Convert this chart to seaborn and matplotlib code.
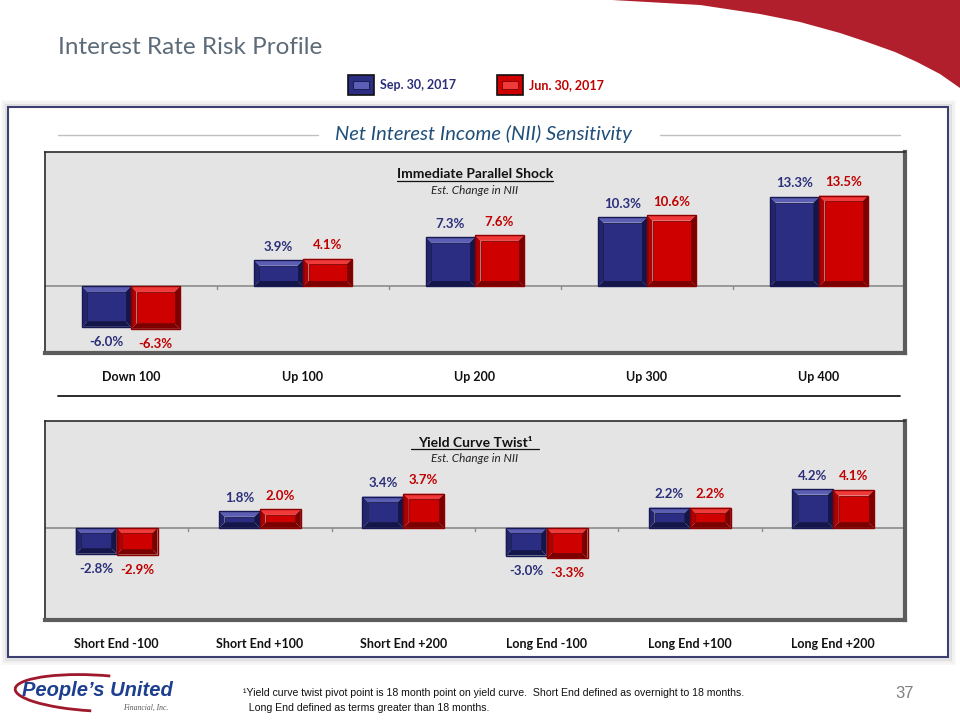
import numpy as np
import pandas as pd
import matplotlib.pyplot as plt
import seaborn as sns
from matplotlib.patches import Rectangle, Polygon, Arc

periodos = ['Sep. 30, 2017', 'Jun. 30, 2017']

choque_cenarios = ['Down 100', 'Up 100', 'Up 200', 'Up 300', 'Up 400']
choque_sep = [-6.0, 3.9, 7.3, 10.3, 13.3]
choque_jun = [-6.3, 4.1, 7.6, 10.6, 13.5]

twist_cenarios = ['Short End -100', 'Short End +100', 'Short End +200',
                  'Long End -100', 'Long End +100', 'Long End +200']
twist_sep = [-2.8, 1.8, 3.4, -3.0, 2.2, 4.2]
twist_jun = [-2.9, 2.0, 3.7, -3.3, 2.2, 4.1]

# cores
AZUL = dict(base='#2a2d82', claro='#5b5eb2', escuro='#14164a', lado='#22256c', borda='#171954', texto='#2b2f7a')
VERMELHO = dict(base='#cf0000', claro='#f03a3a', escuro='#7d0000', lado='#b00000', borda='#8e0000', texto='#c00000')

sns.set_theme(style='white')
plt.rcParams['font.family'] = ['Lato', 'DejaVu Sans']

fig = plt.figure(figsize=(9.6, 7.2), dpi=100)


def fx(px):
    return px / 960


def fy(py):
    return 1 - py / 720


def monta_df(cenarios, sep, jun):
    return pd.DataFrame({
        'cenario': cenarios * 2,
        'valor': sep + jun,
        'periodo': [periodos[0]] * len(cenarios) + [periodos[1]] * len(cenarios),
    })


def bisel(ax, x0, y0, w, h, cor, px_x, px_y, ins=5.5):
    # px_x / px_y: unidades de dados por pixel
    if h < 0:
        y0, h = y0 + h, -h
    wpx, hpx = w / px_x, h / px_y
    dx = min(ins, wpx / 4) * px_x
    dy = min(ins, hpx / 3) * px_y
    x1, y1 = x0 + w, y0 + h
    tr = ax.transData
    pts = {
        'topo': [(x0, y1), (x1, y1), (x1 - dx, y1 - dy), (x0 + dx, y1 - dy)],
        'base': [(x0, y0), (x1, y0), (x1 - dx, y0 + dy), (x0 + dx, y0 + dy)],
        'esq': [(x0, y0), (x0, y1), (x0 + dx, y1 - dy), (x0 + dx, y0 + dy)],
        'dir': [(x1, y0), (x1, y1), (x1 - dx, y1 - dy), (x1 - dx, y0 + dy)],
    }
    cores = {'topo': cor['claro'], 'base': cor['escuro'], 'esq': cor['lado'], 'dir': cor['escuro']}
    for k, p in pts.items():
        ax.add_patch(Polygon(p, closed=True, facecolor=cores[k], edgecolor='none', transform=tr, zorder=3))
    ax.add_patch(Rectangle((x0 + dx, y0 + dy), w - 2 * dx, h - 2 * dy, facecolor=cor['base'],
                           edgecolor=cor['escuro'], linewidth=0.6, transform=tr, zorder=4))
    ax.add_patch(Rectangle((x0, y0), w, h, facecolor='none', edgecolor=cor['borda'],
                           linewidth=1.0, transform=tr, zorder=5))


def painel(ax, df, cenarios, ylim, titulo):
    sns.barplot(data=df, x='cenario', y='valor', hue='periodo', order=cenarios,
                hue_order=periodos, palette=[AZUL['base'], VERMELHO['base']],
                width=0.57, gap=0, errorbar=None, legend=False, ax=ax)
    n = len(cenarios)
    ax.set_xlim(-0.5, n - 0.5)
    ax.set_ylim(*ylim)
    ax.set_facecolor('#e4e4e4')
    pos = ax.get_position()
    px_x = n / (pos.width * 960)
    px_y = (ylim[1] - ylim[0]) / (pos.height * 720)

    for cont, cor in zip(ax.containers, [AZUL, VERMELHO]):
        for bar in cont:
            bar.set_alpha(0)
            x0, y0, w, h = bar.get_x(), bar.get_y(), bar.get_width(), bar.get_height()
            bisel(ax, x0, y0, w, h, cor, px_x, px_y)
            if h >= 0:
                ax.annotate(f'{h:.1f}%', (x0 + w / 2, h), xytext=(0, 5.5), textcoords='offset points',
                            ha='center', va='bottom', fontsize=9.5, fontweight='bold', color=cor['texto'])
            else:
                ax.annotate(f'{h:.1f}%', (x0 + w / 2, h), xytext=(0, -6.5), textcoords='offset points',
                            ha='center', va='top', fontsize=9.5, fontweight='bold', color=cor['texto'])

    # linha do zero e marcas entre categorias
    ax.axhline(0, color='#8c8c8c', linewidth=1.2, zorder=2)
    for i in range(n - 1):
        ax.plot([i + 0.5, i + 0.5], [0, -3 * px_y], color='#8c8c8c', linewidth=1, zorder=2)

    ax.set_xlabel('')
    ax.set_ylabel('')
    ax.set_yticks([])
    ax.set_xticks(range(n))
    ax.set_xticklabels(cenarios, fontsize=9, fontweight='bold', color='#111111')
    ax.tick_params(axis='x', length=0, pad=13)
    for s in ['top', 'left']:
        ax.spines[s].set_color('#2a2a2a')
        ax.spines[s].set_linewidth(1.2)
    for s in ['right', 'bottom']:
        ax.spines[s].set_color('#5c5c5c')
        ax.spines[s].set_linewidth(3)

    ax.text(0.5, 0.89, titulo, transform=ax.transAxes, ha='center', va='center',
            fontsize=10, fontweight='bold', color='#111111')
    ax.text(0.5, 0.81, 'Est. Change in NII', transform=ax.transAxes, ha='center', va='center',
            fontsize=8.5, style='italic', color='#222222')


# moldura externa com sombra
for k, a in [(6, 0.06), (4, 0.10), (2, 0.2)]:
    fig.patches.append(Rectangle((fx(8 - k), fy(657 + k)), fx(940 + 2 * k), (550 + 2 * k) / 720,
                                 transform=fig.transFigure, facecolor='none', edgecolor='#808080',
                                 linewidth=2, alpha=a, zorder=-2))
fig.patches.append(Rectangle((fx(8), fy(657)), fx(940), 550 / 720, transform=fig.transFigure,
                             facecolor='white', edgecolor='#3d3f72', linewidth=1.5, zorder=-1))

ax1 = fig.add_axes([fx(45), fy(353), fx(860), 201 / 720])
ax2 = fig.add_axes([fx(45), fy(620), fx(860), 199 / 720])
ax1.set_zorder(2)
ax2.set_zorder(2)

painel(ax1, monta_df(choque_cenarios, choque_sep, choque_jun), choque_cenarios, (-9.9, 20.0),
       'Immediate Parallel Shock')
painel(ax2, monta_df(twist_cenarios, twist_sep, twist_jun), twist_cenarios, (-10.0, 11.6),
       'Yield Curve Twist\u00b9')

# sublinhado dos titulos dos paineis
for ax, larg in [(ax1, 156), (ax2, 128)]:
    ax.plot([0.5 - larg / 2 / 860, 0.5 + larg / 2 / 860], [0.858, 0.858], transform=ax.transAxes,
            color='#111111', linewidth=0.9, zorder=6)

# cabecalho
fig.text(fx(58), fy(48), 'Interest Rate Risk Profile', fontsize=17.5, color='#5d6b78',
         ha='left', va='center')

# faixa vermelha no canto
curva = [(612, 0), (700, 5), (760, 14), (800, 22), (840, 33), (867, 42), (895, 52), (917, 62),
         (940, 74), (960, 88), (960, 0)]
fig.patches.append(Polygon([(fx(x), fy(y)) for x, y in curva], closed=True,
                           transform=fig.transFigure, facecolor='#b01f2b', edgecolor='none'))

# legenda
for xl, cor, txt in [(348, AZUL, periodos[0]), (497, VERMELHO, periodos[1])]:
    fig.patches.append(Rectangle((fx(xl), fy(95)), fx(26), 20 / 720, transform=fig.transFigure,
                                 facecolor=cor['base'], edgecolor='#111111', linewidth=1.2))
    fig.patches.append(Rectangle((fx(xl + 5), fy(89)), fx(16), 8 / 720, transform=fig.transFigure,
                                 facecolor=cor['claro'], edgecolor=cor['escuro'], linewidth=0.6))
    fig.text(fx(xl + 32), fy(85), txt, fontsize=9, fontweight='bold', color=cor['texto'],
             ha='left', va='center')

# titulo da secao
fig.text(fx(483), fy(134), 'Net Interest Income (NII) Sensitivity', fontsize=14.5, style='italic',
         color='#1f4e79', ha='center', va='center')
fig.add_artist(plt.Line2D([fx(58), fx(318)], [fy(135), fy(135)], transform=fig.transFigure,
                          color='#c0c0c0', linewidth=1))
fig.add_artist(plt.Line2D([fx(660), fx(900)], [fy(135), fy(135)], transform=fig.transFigure,
                          color='#c0c0c0', linewidth=1))

# separador entre os graficos
fig.add_artist(plt.Line2D([fx(58), fx(900)], [fy(396), fy(396)], transform=fig.transFigure,
                          color='#1a1a1a', linewidth=1.3))

# rodape
fig.text(fx(243), fy(693), '\u00b9Yield curve twist pivot point is 18 month point on yield curve.  '
         'Short End defined as overnight to 18 months.', fontsize=7.6,
         family=['Liberation Sans Narrow', 'Liberation Sans'], color='#111111', ha='left', va='center')
fig.text(fx(243), fy(708), '  Long End defined as terms greater than 18 months.', fontsize=7.6,
         family=['Liberation Sans Narrow', 'Liberation Sans'], color='#111111', ha='left', va='center')
fig.text(fx(905), fy(694), '37', fontsize=12, family=['Liberation Sans'], color='#7f7f7f',
         ha='center', va='center')

# logotipo
fig.text(fx(22), fy(691), "People\u2019s United", fontsize=14.5, fontweight='bold', style='italic',
         family=['Liberation Sans Narrow', 'Liberation Sans'], color='#1d3f8f', ha='left', va='center')
fig.text(fx(168), fy(708), 'Financial, Inc.', fontsize=5.5, style='italic',
         family=['Liberation Serif'], color='#555555', ha='right', va='center')
fig.patches.append(Arc((fx(95), fy(693)), fx(160), 36 / 720, angle=-4, theta1=60, theta2=265,
                       transform=fig.transFigure, color='#a0182c', linewidth=2))

fig.savefig('out.png', dpi=100)
